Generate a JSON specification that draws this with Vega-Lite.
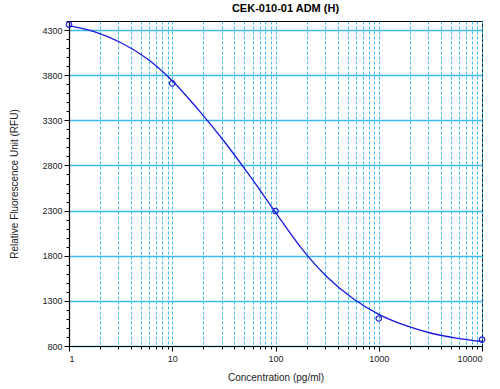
{
  "$schema": "https://vega.github.io/schema/vega-lite/v6.json",
  "width": 413,
  "height": 325,
  "autosize": {"type": "none"},
  "padding": {"left": 69, "top": 21, "right": 18, "bottom": 43},
  "background": "white",
  "title": {"text": "CEK-010-01 ADM (H)", "font": "Liberation Sans", "fontSize": 11, "fontWeight": "bold", "color": "#000000", "offset": 5, "dx": 10, "anchor": "middle"},
  "config": {
    "view": {"stroke": "#000000", "strokeWidth": 1},
    "axis": {"labelFont": "Liberation Sans", "titleFont": "Liberation Sans", "labelFontSize": 9, "titleFontSize": 10, "titleFontWeight": "normal", "labelColor": "#222222", "titleColor": "#222222", "domainColor": "#000000", "tickColor": "#000000", "domainWidth": 1.2, "tickWidth": 1}
  },
  "datasets": {
    "curve": [
      {"conc": 1, "rfu": 4348},
      {"conc": 1.778, "rfu": 4279},
      {"conc": 3.162, "rfu": 4162},
      {"conc": 5.623, "rfu": 3987},
      {"conc": 10, "rfu": 3739},
      {"conc": 17.78, "rfu": 3421},
      {"conc": 31.62, "rfu": 3071},
      {"conc": 56.23, "rfu": 2686},
      {"conc": 100, "rfu": 2281},
      {"conc": 177.8, "rfu": 1885},
      {"conc": 316.2, "rfu": 1565},
      {"conc": 562.3, "rfu": 1326},
      {"conc": 1000, "rfu": 1150},
      {"conc": 1778, "rfu": 1030},
      {"conc": 3162, "rfu": 944},
      {"conc": 5623, "rfu": 888},
      {"conc": 10000, "rfu": 850}
    ],
    "points": [
      {"conc": 1, "rfu": 4360},
      {"conc": 10, "rfu": 3709},
      {"conc": 100, "rfu": 2295},
      {"conc": 1000, "rfu": 1105},
      {"conc": 10000, "rfu": 870}
    ]
  },
  "layer": [
    {
      "data": {"name": "curve"},
      "mark": {"type": "line", "color": "#1717e0", "strokeWidth": 1.3, "interpolate": "monotone", "clip": true},
      "encoding": {
        "x": {"field": "conc", "type": "quantitative",
          "scale": {"type": "log", "domain": [1, 10000], "nice": false},
          "axis": {"values": [1,2,3,4,5,6,7,8,9,10,20,30,40,50,60,70,80,90,100,200,300,400,500,600,700,800,900,1000,2000,3000,4000,5000,6000,7000,8000,9000,10000],
            "labels": false, "title": null, "tickSize": 3, "grid": true, "gridColor": "#2fb4ea", "gridDash": [3, 2], "gridWidth": 1, "gridOpacity": 0.9, "domain": true}},
        "y": {"field": "rfu", "type": "quantitative",
          "scale": {"domain": [800, 4400], "zero": false, "nice": false},
          "axis": {"values": [800,1300,1800,2300,2800,3300,3800,4300], "format": "d", "grid": true, "gridColor": "#3cbcee", "gridWidth": 1.5, "tickSize": 5, "labelPadding": 2, "title": "Relative Fluorescence Unit (RFU)", "titlePadding": 22}}
      }
    },
    {
      "data": {"name": "points"},
      "mark": {"type": "point", "shape": "circle", "filled": false, "color": "#1f1fd6", "size": 30, "strokeWidth": 1.2, "opacity": 1, "clip": false},
      "encoding": {
        "x": {"field": "conc", "type": "quantitative",
          "axis": {"values": [1, 10, 100, 1000, 10000], "format": "d", "grid": false, "tickSize": 5, "labelPadding": 3, "title": "Concentration (pg/ml)", "titlePadding": 9, "orient": "bottom", "domain": false}},
        "y": {"field": "rfu", "type": "quantitative",
          "axis": {"values": [800,900,1000,1100,1200,1300,1400,1500,1600,1700,1800,1900,2000,2100,2200,2300,2400,2500,2600,2700,2800,2900,3000,3100,3200,3300,3400,3500,3600,3700,3800,3900,4000,4100,4200,4300,4400],
            "orient": "left", "labels": false, "grid": false, "title": null, "tickSize": 3, "domain": false}}
      }
    }
  ],
  "resolve": {"axis": {"x": "independent", "y": "independent"}}
}
